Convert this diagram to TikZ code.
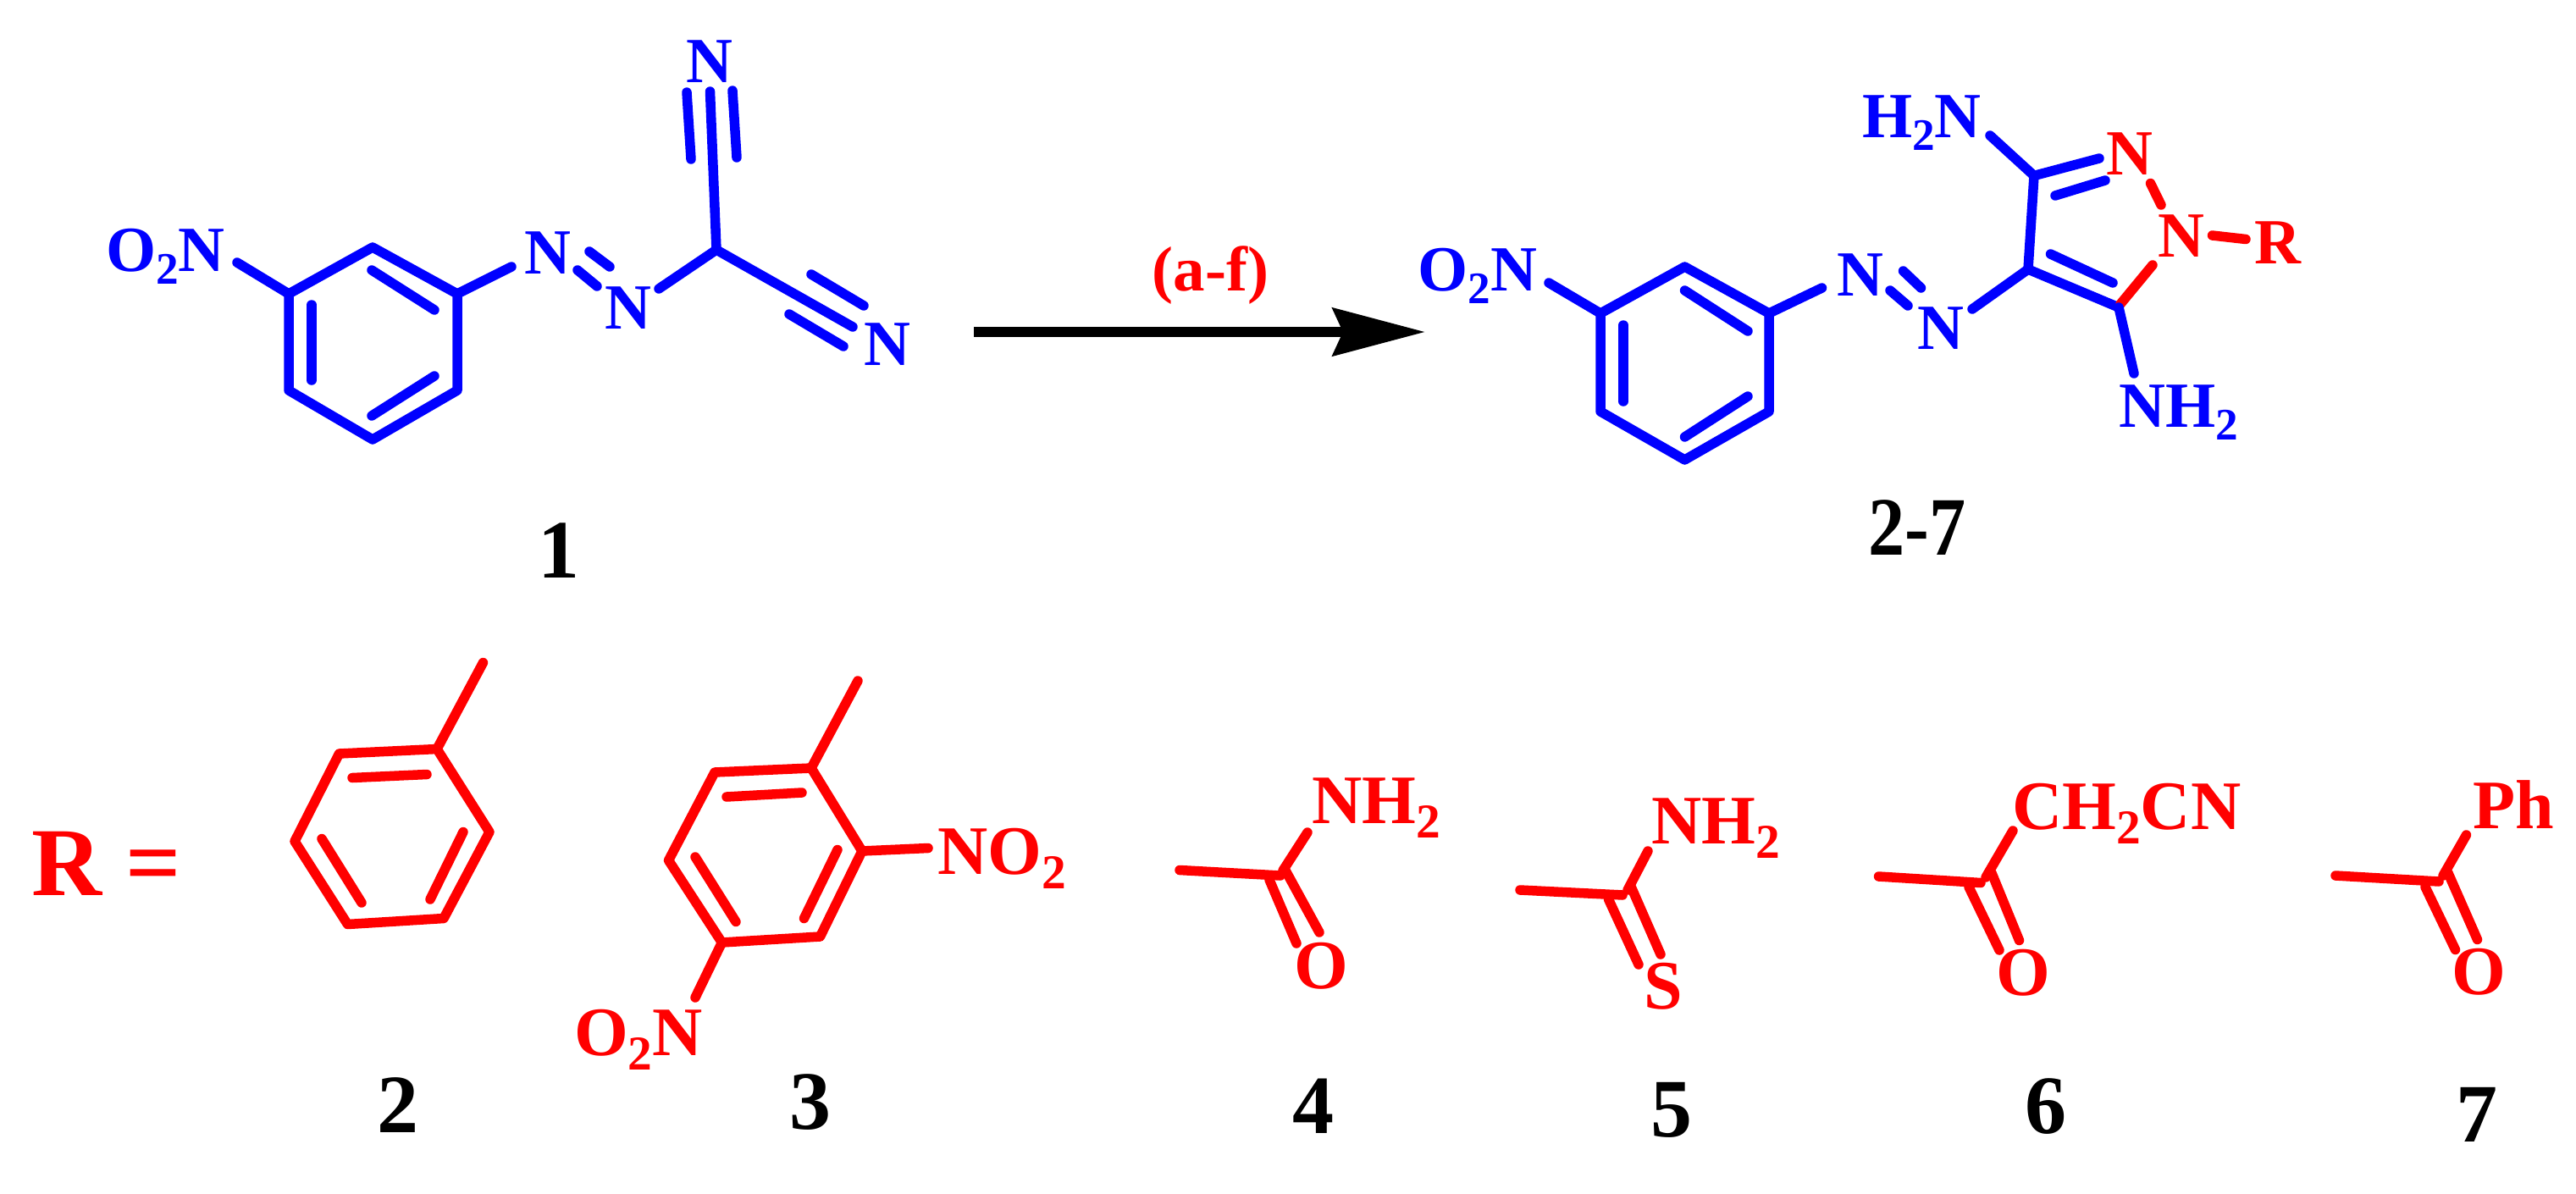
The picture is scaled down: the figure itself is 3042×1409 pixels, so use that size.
\documentclass[tikz,border=0pt]{standalone}
\usepackage{fontspec}
\setmainfont{Liberation Serif}
\usetikzlibrary{arrows.meta}
\definecolor{chemblue}{RGB}{0,0,255}
\definecolor{chemred}{RGB}{255,0,0}
\newcommand{\lowtwo}{\raisebox{-.21em}{\scalebox{.7}{2}}}
\tikzset{
 x=1pt,y=-1pt,
 bb/.style={line width=11.5pt,color=chemblue,line cap=round,line join=round},
 rb/.style={line width=11.5pt,color=chemred,line cap=round,line join=round},
 atomb/.style={font=\fontsize{76}{76}\selectfont\bfseries,text=chemblue,inner sep=0pt},
 atomr/.style={font=\fontsize{82}{82}\selectfont\bfseries,text=chemred,inner sep=0pt},
 grpb/.style={atomb,anchor=base west},
 grpr/.style={atomr,anchor=base west},
 lab/.style={font=\fontsize{98}{98}\selectfont\bfseries,text=black,inner sep=0pt},
}
\begin{document}
\begin{tikzpicture}
\useasboundingbox (0,0) rectangle (3042,1409);
% ---------- compound 1
\coordinate (a1) at (440,292);
\coordinate (a2) at (540,347);
\coordinate (a3) at (540,461);
\coordinate (a4) at (440,519);
\coordinate (a5) at (341,461);
\coordinate (a6) at (341,347);
\draw[bb] (a1)--(a2)--(a3)--(a4)--(a5)--(a6)--cycle;
\coordinate (ai1) at (439,319); \coordinate (ai2) at (513,366);
\coordinate (ai3) at (368,360); \coordinate (ai4) at (368,449);
\coordinate (ai5) at (513,444); \coordinate (ai6) at (439,491);
\draw[bb] (ai1)--(ai2);
\draw[bb] (ai3)--(ai4);
\draw[bb] (ai5)--(ai6);
\node[grpb] (ano2) at (125,320) {O\lowtwo N};
\coordinate (ano2e) at (280,310);
\draw[bb] (a6)--(ano2e);
\node[atomb] (an1) at (647,299) {N};
\coordinate (an1e) at (604,315);
\draw[bb] (a2)--(an1e);
\coordinate (ad1) at (696,297); \coordinate (ad2) at (720,315);
\coordinate (ad3) at (682,319); \coordinate (ad4) at (705,338);
\draw[bb] (ad1)--(ad2);
\draw[bb] (ad3)--(ad4);
\node[atomb] (an2) at (742,364) {N};
\coordinate (an2e) at (778,341);
\coordinate (ac) at (846,295);
\draw[bb] (an2e)--(ac);
\coordinate (at1) at (838.5,108);
\draw[bb] (ac)--(at1);
\coordinate (at2) at (811,109); \coordinate (at3) at (816,188);
\coordinate (at4) at (865,107); \coordinate (at5) at (870,186);
\draw[bb] (at2)--(at3);
\draw[bb] (at4)--(at5);
\node[atomb] (an3) at (838,73) {N};
\coordinate (ar1) at (1007,386);
\draw[bb] (ac)--(ar1);
\coordinate (ar2) at (958,324); \coordinate (ar3) at (1020,361);
\coordinate (ar4) at (932,371); \coordinate (ar5) at (996,409);
\draw[bb] (ar2)--(ar3);
\draw[bb] (ar4)--(ar5);
\node[atomb] (an4) at (1048,407) {N};
\node[lab] (l1) at (660,650) {1};
% ---------- arrow
\coordinate (arrS) at (1150,392);
\coordinate (arrE) at (1683,392);
\draw[line width=12.3pt,-{Stealth[length=109pt,width=56pt,inset=12pt]}] (arrS)--(arrE);
\node[font=\fontsize{75}{75}\selectfont\bfseries,text=chemred,inner sep=0pt,anchor=base] (cond) at (1429.5,343) {(a-f)};
% ---------- compound 2-7
\coordinate (b1) at (1989.5,315);
\coordinate (b2) at (2089,370);
\coordinate (b3) at (2089,486);
\coordinate (b4) at (1989.5,543);
\coordinate (b5) at (1890,486);
\coordinate (b6) at (1890,370);
\draw[bb] (b1)--(b2)--(b3)--(b4)--(b5)--(b6)--cycle;
\coordinate (bi1) at (1989.5,343); \coordinate (bi2) at (2064,391);
\coordinate (bi3) at (1917,384); \coordinate (bi4) at (1917,474);
\coordinate (bi5) at (2064,468); \coordinate (bi6) at (1989.5,516);
\draw[bb] (bi1)--(bi2);
\draw[bb] (bi3)--(bi4);
\draw[bb] (bi5)--(bi6);
\node[grpb] (bno2) at (1674.5,343) {O\lowtwo N};
\coordinate (bno2e) at (1829,334);
\draw[bb] (b6)--(bno2e);
\node[atomb] (bn1) at (2197,324.5) {N};
\coordinate (bn1e) at (2151.5,340);
\draw[bb] (b2)--(bn1e);
\coordinate (bd1) at (2247.5,320); \coordinate (bd2) at (2268.5,340);
\coordinate (bd3) at (2232,343); \coordinate (bd4) at (2253,361);
\draw[bb] (bd1)--(bd2);
\draw[bb] (bd3)--(bd4);
\node[atomb] (bn2) at (2291.5,388) {N};
\coordinate (bn2e) at (2329,365);
\coordinate (c4) at (2395,318);
\coordinate (c3) at (2402,207.5);
\coordinate (c5) at (2502,363);
\draw[bb] (bn2e)--(c4);
\draw[bb] (c4)--(c3);
\draw[bb] (c4)--(c5);
\coordinate (ci1) at (2421.5,300); \coordinate (ci2) at (2495,334);
\draw[bb] (ci1)--(ci2);
\node[grpb] (h2n) at (2199,162) {H\lowtwo N};
\coordinate (h2ne) at (2350,160);
\draw[bb] (c3)--(h2ne);
\coordinate (cn1) at (2479,187);
\draw[bb] (c3)--(cn1);
\coordinate (ci3) at (2427,231); \coordinate (ci4) at (2486,213);
\draw[bb] (ci3)--(ci4);
\node[atomr,font=\fontsize{76}{76}\selectfont\bfseries] (rn1) at (2515,182) {N};
\node[atomr,font=\fontsize{76}{76}\selectfont\bfseries] (rn2) at (2576,279) {N};
\node[atomr,font=\fontsize{76}{76}\selectfont\bfseries] (rr) at (2690,287) {R};
\coordinate (rd1) at (2539.5,216.5); \coordinate (rd2) at (2552,242);
\draw[rb] (rd1)--(rd2);
\coordinate (rd3) at (2612.5,278); \coordinate (rd4) at (2652,282.5);
\draw[rb] (rd3)--(rd4);
\coordinate (rd5) at (2504,359); \coordinate (rd6) at (2542,313);
\draw[rb] (rd5)--(rd6);
\coordinate (c5e) at (2520,441);
\draw[bb] (c5)--(c5e);
\node[grpb] (nh2) at (2502,504) {NH\lowtwo};
\node[lab,xscale=.88] (l27) at (2264,623) {2-7};
% ---------- R =
\node[anchor=base west,font=\fontsize{115}{115}\selectfont\bfseries,text=chemred,inner sep=0pt] (req) at (37,1057) {R =};
% ---------- R of 2
\coordinate (p1) at (516,884.5);
\coordinate (p2) at (400.5,890);
\coordinate (p3) at (348,993.5);
\coordinate (p4) at (410.5,1091.5);
\coordinate (p5) at (524,1084.5);
\coordinate (p6) at (578,982.5);
\draw[rb] (p1)--(p2)--(p3)--(p4)--(p5)--(p6)--cycle;
\coordinate (pe) at (570.5,782.5);
\draw[rb] (p1)--(pe);
\coordinate (pi1) at (416,918.5); \coordinate (pi2) at (504,914.5);
\coordinate (pi3) at (380,990.5); \coordinate (pi4) at (427,1066);
\coordinate (pi5) at (547,982.5); \coordinate (pi6) at (508,1062);
\draw[rb] (pi1)--(pi2);
\draw[rb] (pi3)--(pi4);
\draw[rb] (pi5)--(pi6);
\node[lab] (l2) at (470,1305) {2};
% ---------- R of 3
\coordinate (q1) at (958,907);
\coordinate (q2) at (844,912);
\coordinate (q3) at (789.5,1016);
\coordinate (q4) at (852.5,1113);
\coordinate (q5) at (968.5,1106);
\coordinate (q6) at (1018,1005);
\draw[rb] (q1)--(q2)--(q3)--(q4)--(q5)--(q6)--cycle;
\coordinate (qe) at (1013,804);
\draw[rb] (q1)--(qe);
\coordinate (qi1) at (858,941); \coordinate (qi2) at (947,936);
\coordinate (qi3) at (821,1012); \coordinate (qi4) at (869,1088.5);
\coordinate (qi5) at (989,1003.5); \coordinate (qi6) at (949.5,1084.5);
\draw[rb] (qi1)--(qi2);
\draw[rb] (qi3)--(qi4);
\draw[rb] (qi5)--(qi6);
\coordinate (qn1) at (1096,1001.5);
\draw[rb] (q6)--(qn1);
\node[grpr] (qno2) at (1107,1032.5) {NO\lowtwo};
\coordinate (qn2) at (821,1178);
\draw[rb] (q4)--(qn2);
\node[grpr] (qo2n) at (678,1246.5) {O\lowtwo N};
\node[lab] (l3) at (957,1302) {3};
% ---------- R of 4
\coordinate (f4a) at (1393,1027.5); \coordinate (f4c) at (1512,1034);
\draw[rb] (f4a)--(f4c);
\coordinate (f4n) at (1544,983); \coordinate (f4d) at (1515,1028);
\draw[rb] (f4d)--(f4n);
\coordinate (f4o1) at (1517,1026); \coordinate (f4o2) at (1558,1101);
\coordinate (f4o3) at (1499,1039); \coordinate (f4o4) at (1531,1114);
\draw[rb] (f4o1)--(f4o2);
\draw[rb] (f4o3)--(f4o4);
\node[grpr] (f4nh) at (1549,972) {NH\lowtwo};
\node[atomr] (f4ox) at (1560,1141) {O};
\node[lab] (l4) at (1551,1306) {4};
% ---------- R of 5
\coordinate (f5a) at (1795,1051); \coordinate (f5c) at (1916,1057);
\draw[rb] (f5a)--(f5c);
\coordinate (f5n) at (1946,1005); \coordinate (f5d) at (1922,1051);
\draw[rb] (f5d)--(f5n);
\coordinate (f5o1) at (1926.5,1048); \coordinate (f5o2) at (1961,1127);
\coordinate (f5o3) at (1899.5,1062); \coordinate (f5o4) at (1935,1139);
\draw[rb] (f5o1)--(f5o2);
\draw[rb] (f5o3)--(f5o4);
\node[grpr] (f5nh) at (1950,996) {NH\lowtwo};
\node[atomr] (f5s) at (1964,1165) {S};
\node[lab] (l5) at (1974,1311) {5};
% ---------- R of 6
\coordinate (f6a) at (2218.5,1035); \coordinate (f6c) at (2339,1042.5);
\draw[rb] (f6a)--(f6c);
\coordinate (f6n) at (2377,981); \coordinate (f6d) at (2345,1036);
\draw[rb] (f6d)--(f6n);
\coordinate (f6o1) at (2352,1031); \coordinate (f6o2) at (2384.5,1110.5);
\coordinate (f6o3) at (2325,1047.5); \coordinate (f6o4) at (2361,1122);
\draw[rb] (f6o1)--(f6o2);
\draw[rb] (f6o3)--(f6o4);
\node[grpr] (f6g) at (2376,979) {CH\lowtwo CN};
\node[atomr] (f6ox) at (2389,1149) {O};
\node[lab] (l6) at (2416,1307) {6};
% ---------- R of 7
\coordinate (f7a) at (2758,1034); \coordinate (f7c) at (2880,1041);
\draw[rb] (f7a)--(f7c);
\coordinate (f7n) at (2912.5,986); \coordinate (f7d) at (2885,1034);
\draw[rb] (f7d)--(f7n);
\coordinate (f7o1) at (2891,1031); \coordinate (f7o2) at (2925.5,1109.5);
\coordinate (f7o3) at (2864,1047.5); \coordinate (f7o4) at (2899.5,1121.5);
\draw[rb] (f7o1)--(f7o2);
\draw[rb] (f7o3)--(f7o4);
\node[grpr] (f7ph) at (2920,978) {Ph};
\node[atomr] (f7ox) at (2927,1148) {O};
\node[lab] (l7) at (2925,1316) {7};
\end{tikzpicture}
\end{document}
